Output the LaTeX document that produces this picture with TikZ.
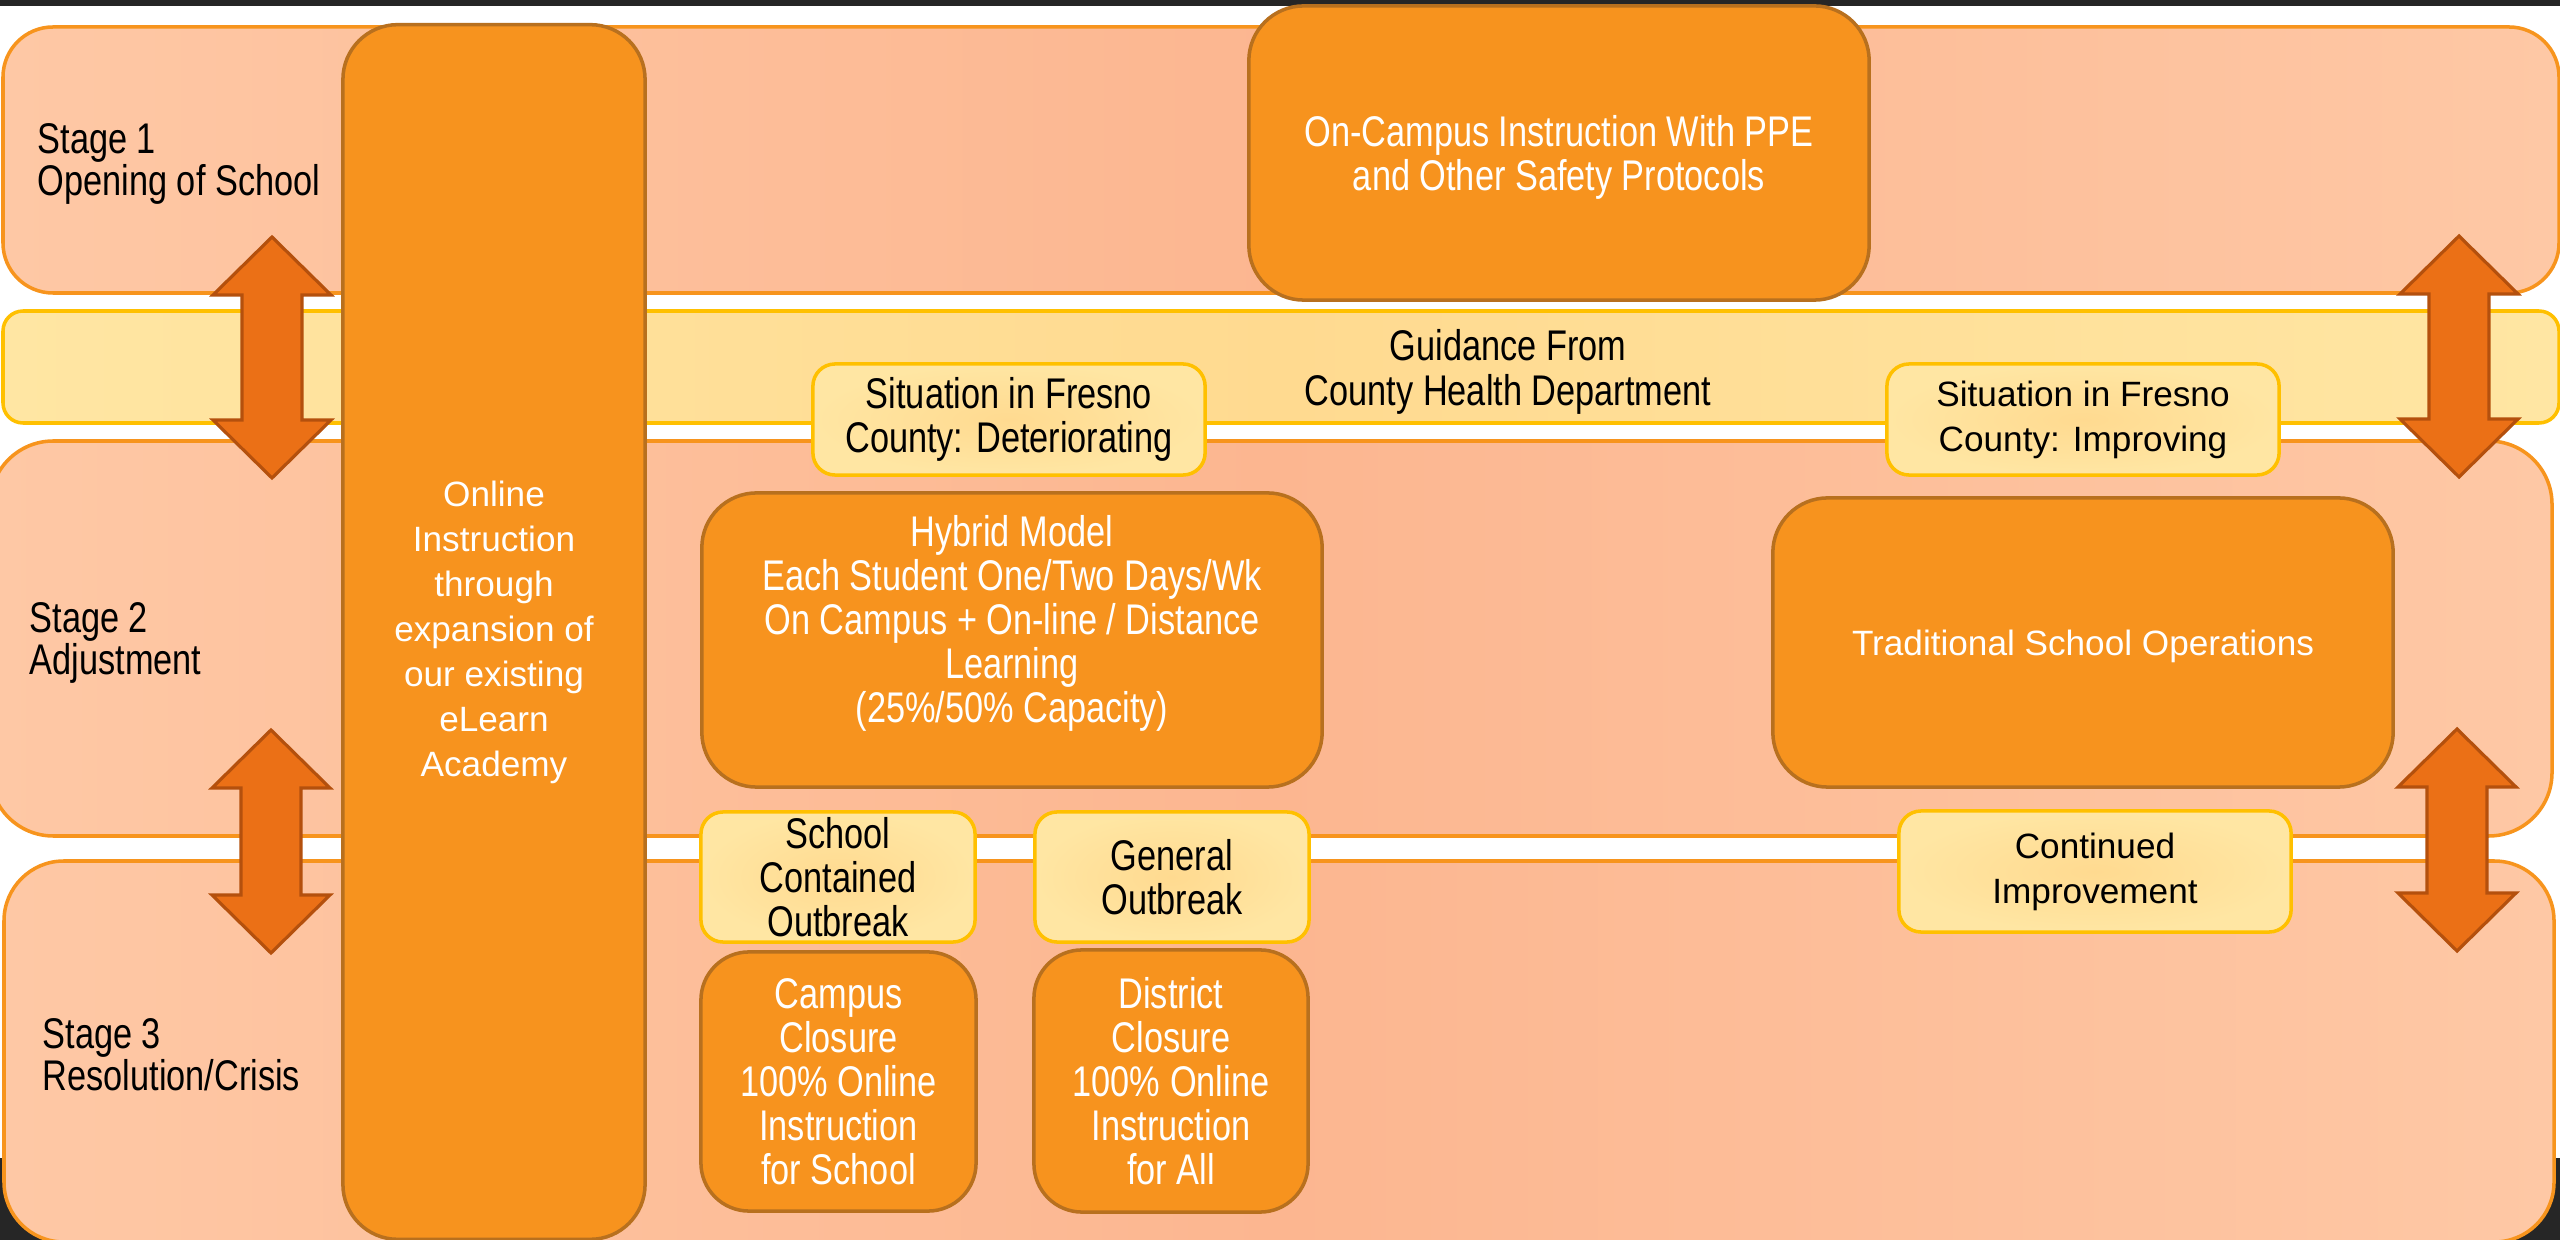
\documentclass[tikz,border=0pt]{standalone}
\usepackage{fontspec}
\setmainfont{Liberation Sans}
\newfontfamily\condf[FakeStretch=0.8]{Liberation Sans}
\newcommand\mycond{\condf\fontsize{12.2}{12.5}\selectfont}
\newcommand\myreg{\fontsize{10}{12.8}\selectfont}
\definecolor{darkbg}{HTML}{262626}
\definecolor{bandedge}{HTML}{FEC8A5}
\definecolor{bandmid}{HTML}{FCB690}
\definecolor{bandline}{HTML}{F7941D}
\definecolor{yedge}{HTML}{FFE6A3}
\definecolor{ymid}{HTML}{FFDA90}
\definecolor{yline}{HTML}{FFC000}
\definecolor{ofill}{HTML}{F7931E}
\definecolor{oline}{HTML}{B8701E}
\definecolor{afill}{HTML}{EB7016}
\definecolor{aline}{HTML}{B4500D}
\newcommand\dbarrow[3]{%
  \draw[arrowst] (#1,#2) -- ({#1+59},{#2+58}) -- ({#1+30},{#2+58}) -- ({#1+30},{#3-58})
    -- ({#1+59},{#3-58}) -- (#1,#3) -- ({#1-59},{#3-58}) -- ({#1-30},{#3-58})
    -- ({#1-30},{#2+58}) -- ({#1-59},{#2+58}) -- cycle;}
\begin{document}
\begin{tikzpicture}[x=0.01cm,y=-0.01cm,
  band/.style={draw=bandline, line width=1pt, left color=bandedge, right color=bandedge, middle color=bandmid},
  yband/.style={draw=yline, line width=1pt, left color=yedge, right color=yedge, middle color=ymid, rounded corners=5.7pt},
  obox/.style={draw=oline, line width=1pt, fill=ofill, rounded corners=15.6pt, inner sep=0pt, text=white, align=center, font=\mycond},
  ybox/.style={draw=yline, line width=1pt, inner color=ymid, outer color=yedge, rounded corners=6.3pt, inner sep=0pt, text=black, align=center, font=\mycond},
  arrowst/.style={draw=aline, line width=0.9pt, fill=afill, line join=miter},
  stagelbl/.style={anchor=west, align=left, inner sep=0pt, font=\condf\fontsize{12.2}{12}\selectfont}
]
\useasboundingbox (0,0) rectangle (2560,1240);
\fill[darkbg] (0,0) rectangle (2560,1240);
\fill[white] (0,6) rectangle (2560,1158);
% bands
\path[band, rounded corners=14.2pt] (3,27) rectangle (2559,293);
\path[yband] (3,311) rectangle (2559,423);
\path[band, rounded corners=18pt] (-10,441) rectangle (2552,836);
\path[band, rounded corners=17pt] (4,861) rectangle (2554,1242);
% stage labels
\node[stagelbl] (s1) at (37,164) {Stage 1\\Opening of School};
\node[stagelbl] (s2) at (29,643) {Stage 2\\Adjustment};
\node[stagelbl] (s3) at (42,1055) {Stage 3\\Resolution/Crisis};
% guidance
\node[font=\condf\fontsize{12.2}{12.8}\selectfont, align=center, inner sep=0pt] (guid) at (1508,372) {Guidance From\\County Health Department};
% arrows
\dbarrow{272}{237}{478}
\dbarrow{271}{730}{953}
\dbarrow{2459}{236}{477}
\dbarrow{2457}{729}{951}
% online column
\node[obox, font=\myreg, minimum width=30.2mm, minimum height=121.4mm] (online) at (494,632)
  {Online\\Instruction\\through\\expansion of\\our existing\\eLearn\\Academy};
% boxes
\node[obox, text depth=0pt, minimum width=62mm, minimum height=29.4mm] (oncampus) at (1559,153)
  {On-Campus Instruction With PPE\\and Other Safety Protocols};
\node[ybox] (fdet) at (1009,419.5) [minimum width=39.2mm, minimum height=11.1mm]
  {Situation in Fresno\\County: Deteriorating};
\node[ybox, font=\myreg] (fimp) at (2083,419.5) [minimum width=39.2mm, minimum height=11.1mm]
  {Situation in Fresno\\County: Improving};
\node[obox, minimum width=62mm, minimum height=29.4mm] (hybrid) at (1012,640) {};
\node[text=white, align=center, font=\mycond, inner sep=0pt] (hybridtxt) at (1012,623)
  {Hybrid Model\\Each Student One/Two Days/Wk\\On Campus + On-line / Distance\\Learning\\(25\%/50\% Capacity)};
\node[obox, font=\myreg, text depth=0pt, minimum width=62mm, minimum height=28.9mm] (trad) at (2083,642.5)
  {Traditional School Operations};
\node[ybox, minimum width=27.4mm, minimum height=13mm] (scont) at (838,877)
  {School\\Contained\\Outbreak};
\node[ybox, minimum width=27.4mm, minimum height=13mm] (gen) at (1172,877)
  {General\\Outbreak};
\node[ybox, font=\myreg, minimum width=39.2mm, minimum height=12.1mm] (cont) at (2095,871.5)
  {Continued\\Improvement};
\node[obox, rounded corners=13.7pt, minimum width=27.5mm, minimum height=25.9mm] (campus) at (838.5,1081.5)
  {Campus\\Closure\\100\% Online\\Instruction\\for School};
\node[obox, rounded corners=13.7pt, minimum width=27.4mm, minimum height=26.2mm] (district) at (1171,1081)
  {District\\Closure\\100\% Online\\Instruction\\for All};
\end{tikzpicture}
\end{document}
